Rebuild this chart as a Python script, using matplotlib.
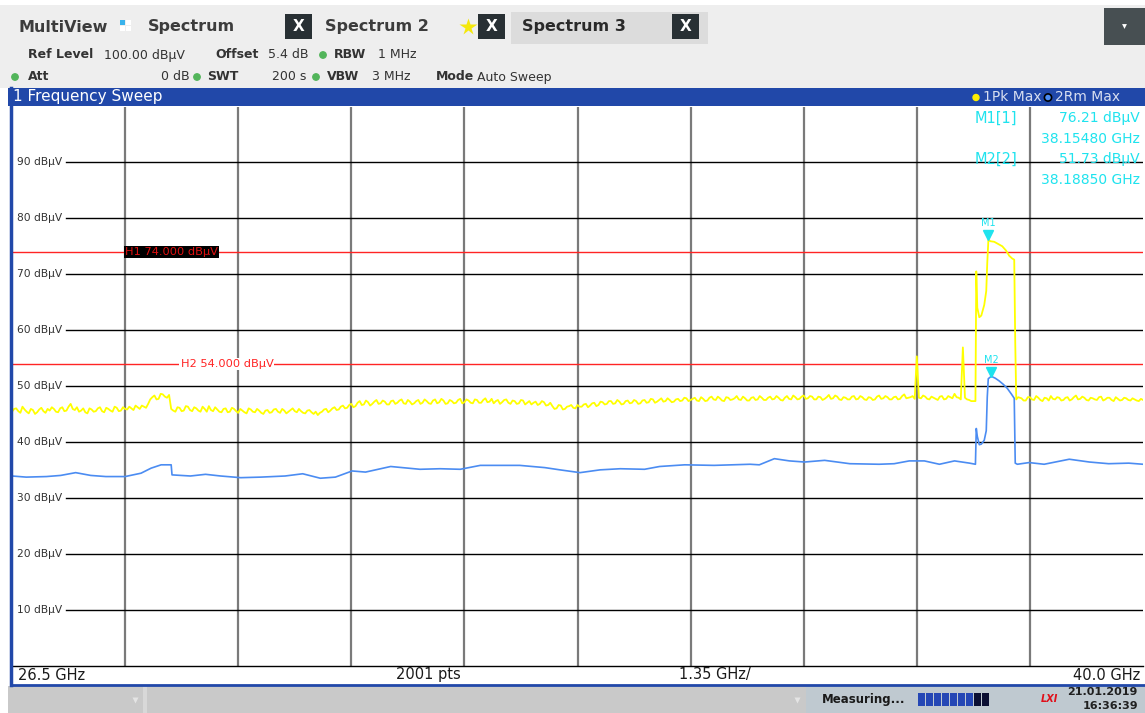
import numpy as np
import matplotlib
matplotlib.use("Agg")
import matplotlib.pyplot as plt
from matplotlib.patches import Rectangle, Circle
from matplotlib.transforms import offset_copy, blended_transform_factory

W, H = 1145, 713

# sweep settings
f_start, f_stop = 26.5, 40.0
n_div = 10
level_ticks = [90, 80, 70, 60, 50, 40, 30, 20, 10]

# trace 1 (1Pk Max), 50 MHz grid from 26.50 to 37.95 GHz
pk_low = [
    45.4, 46.0, 45.2, 45.8, 45.1, 45.7, 45.3, 46.1, 45.2, 45.6,
    45.9, 45.3, 46.2, 45.6, 46.8, 45.7, 45.4, 46.0, 45.1, 45.8,
    45.5, 46.2, 45.3, 45.9, 45.4, 46.1, 45.6, 45.9, 46.3, 45.7,
    46.2, 46.5, 46.1, 47.6, 48.3, 47.7, 48.5, 47.9, 45.9, 45.4,
    46.1, 45.6, 46.3, 45.5, 46.0, 45.4, 45.9, 46.4, 45.5, 45.8,
    45.3, 46.0, 45.4, 45.9, 45.2, 45.6, 45.1, 45.8, 45.3, 45.6,
    45.0, 45.7, 45.3, 45.9, 45.2, 45.6, 45.4, 46.0, 45.3, 45.5,
    45.1, 45.7, 45.0, 44.8, 45.4, 45.9, 45.6, 46.2, 45.8, 46.5,
    46.1, 46.8, 46.4, 47.3, 46.7, 47.1, 46.8, 47.5, 46.9, 47.2,
    46.7, 47.4, 47.0, 47.6, 46.8, 47.2, 46.9, 47.5, 47.0, 47.3,
    46.8, 47.6, 47.1, 47.4, 46.9, 47.3, 47.0, 47.7, 47.1, 47.4,
    46.9, 47.5, 47.0, 47.8, 47.2, 46.9, 47.5, 47.1, 47.6, 46.8,
    47.3, 46.9, 47.4, 47.0, 46.7, 47.2, 46.8, 47.1, 46.6, 46.4,
    46.0, 46.5, 45.9, 46.4, 46.1, 46.6, 46.3, 46.8, 46.5, 47.0,
    46.6, 47.1, 46.8, 47.3, 46.9, 47.2, 46.8, 47.4, 47.0, 47.3,
    46.9, 47.5, 47.1, 47.6, 47.2, 47.8, 47.3, 47.5, 47.2, 47.7,
    47.4, 47.8, 47.5, 47.9, 47.3, 47.7, 47.4, 48.1, 47.5, 47.8,
    47.3, 47.9, 47.6, 48.2, 47.5, 47.8, 47.4, 48.0, 47.6, 47.9,
    47.5, 48.1, 47.7, 47.9, 47.4, 48.2, 47.6, 48.0, 47.7, 48.3,
    47.8, 48.1, 47.6, 48.0, 47.7, 48.4, 47.8, 48.1, 47.5, 47.9,
    47.6, 48.2, 47.7, 48.0, 47.5, 47.9, 47.6, 48.3, 47.8, 48.0,
    47.6, 48.1, 47.7, 48.5, 47.9, 48.2, 55.3, 47.8, 48.1, 47.6,
    47.9, 47.5, 48.2, 47.7, 48.0, 48.6, 47.9, 56.9, 47.6, 47.3,
]
# trace 1, sweep points halfway between the ones above (26.525 ... 37.925 GHz)
pk_low_mid = [
    45.9, 45.5, 46.3, 45.4, 45.9, 45.0, 45.8, 45.5, 45.9, 46.2,
    45.4, 46.0, 45.5, 46.3, 45.9, 46.2, 45.6, 45.3, 46.0, 45.4,
    46.0, 45.5, 46.1, 45.6, 46.3, 45.5, 46.2, 45.8, 46.0, 46.5,
    45.9, 46.3, 46.8, 48.0, 47.6, 48.6, 48.1, 48.4, 45.6, 46.2,
    45.5, 46.4, 45.7, 46.2, 45.6, 46.3, 45.4, 45.7, 46.2, 45.4,
    45.9, 45.3, 46.1, 45.5, 45.9, 45.3, 46.0, 45.4, 45.9, 45.2,
    45.6, 45.2, 45.8, 45.4, 45.9, 45.1, 45.7, 45.5, 45.9, 45.2,
    45.6, 45.3, 45.4, 45.2, 45.8, 45.3, 46.0, 45.7, 46.3, 46.0,
    46.6, 46.2, 47.0, 46.6, 47.4, 46.5, 47.2, 46.8, 47.4, 46.7,
    47.3, 46.8, 47.4, 46.9, 47.5, 46.7, 47.3, 46.8, 47.6, 46.9,
    47.4, 46.9, 47.7, 46.8, 47.5, 46.9, 47.5, 46.9, 47.6, 47.0,
    47.6, 47.0, 47.5, 47.1, 47.7, 47.3, 46.8, 47.5, 47.0, 47.4,
    46.8, 47.5, 46.7, 47.3, 47.0, 46.6, 47.3, 46.5, 47.0, 45.9,
    46.6, 45.8, 46.3, 46.6, 46.0, 46.3, 46.7, 46.2, 46.9, 46.4,
    47.2, 46.7, 47.3, 46.8, 47.5, 46.7, 47.3, 46.9, 47.5, 46.8,
    47.4, 47.0, 47.7, 47.0, 47.5, 47.2, 47.8, 47.1, 47.6, 47.3,
    47.9, 47.3, 47.7, 47.4, 48.0, 47.3, 47.9, 47.6, 48.1, 47.4,
    48.0, 47.5, 47.8, 47.6, 48.1, 47.4, 47.9, 47.5, 48.2, 47.5,
    47.9, 47.6, 48.2, 47.5, 47.9, 47.7, 48.3, 47.6, 48.1, 47.7,
    48.2, 47.6, 48.1, 47.5, 48.0, 47.7, 48.3, 47.6, 48.0, 47.6,
    48.1, 47.6, 48.2, 47.6, 48.0, 47.5, 48.1, 47.7, 48.2, 47.6,
    48.0, 47.6, 48.2, 47.8, 48.0, 47.7, 47.9, 48.3, 47.7, 48.1,
    47.7, 48.1, 47.6, 48.2, 47.8, 48.0, 47.6, 47.9, 47.5,
]
# trace 1, 50 MHz grid from 38.55 to 40.00 GHz
pk_high = [
    47.8, 47.4, 48.0, 47.5, 47.9, 47.3, 47.8, 48.2, 47.6, 47.9,
    47.5, 48.0, 47.6, 48.3, 47.7, 47.9, 47.4, 47.8, 47.5, 48.1,
    47.6, 47.9, 47.3, 47.7, 47.5, 47.8, 47.4, 47.6, 47.3, 47.5,
]
# trace 1, halfway points 38.575 ... 39.975 GHz
pk_high_mid = [
    47.4, 48.0, 47.6, 48.2, 47.5, 47.9, 47.4, 47.7, 48.0, 47.4,
    47.9, 47.4, 48.0, 47.6, 48.1, 47.5, 47.9, 47.6, 48.0, 47.4,
    47.9, 47.5, 48.0, 47.4, 47.9, 47.5, 47.8, 47.4, 47.7,
]
# trace 1 across the carrier burst
pk_burst_ghz = [38.000, 38.010, 38.022, 38.046, 38.070, 38.105, 38.129, 38.141,
                38.1548, 38.177, 38.224, 38.272, 38.320, 38.367, 38.403, 38.439,
                38.463, 38.475, 38.487, 38.510]
pk_burst_dbuv = [47.3, 70.5, 64.0, 62.3, 62.6, 64.5, 67.0, 72.0,
                 76.21, 75.9, 75.8, 75.4, 75.0, 74.2, 73.3, 72.8,
                 72.6, 57.8, 47.6, 48.0]

# trace 2 (2Rm Max)
rm_ghz = [26.50, 26.67, 26.91, 27.08, 27.26, 27.44, 27.62, 27.85, 28.04, 28.16,
          28.28, 28.40, 28.41, 28.63, 28.81, 28.99, 29.23, 29.47, 29.76, 29.97,
          30.18, 30.36, 30.56, 30.72, 31.02, 31.37, 31.61, 31.85, 32.09, 32.56,
          32.86, 33.04, 33.28, 33.52, 33.76, 34.05, 34.23, 34.53, 34.88, 35.31,
          35.42, 35.60, 35.78, 35.96, 36.20, 36.50, 36.85, 37.03, 37.21, 37.39,
          37.57, 37.75, 37.93, 38.000, 38.010, 38.022, 38.046, 38.070, 38.105, 38.129,
          38.141, 38.153, 38.1885, 38.236, 38.284, 38.332, 38.379, 38.427, 38.463, 38.475,
          38.50, 38.64, 38.82, 39.12, 39.36, 39.59, 39.83, 40.00]
rm_dbuv = [33.9, 33.7, 33.8, 34.0, 34.5, 34.0, 33.8, 33.8, 34.4, 35.3,
           35.9, 35.9, 34.1, 33.9, 34.2, 33.9, 33.6, 33.7, 33.9, 34.3,
           33.5, 33.7, 34.8, 34.6, 35.6, 35.1, 35.2, 35.1, 35.8, 35.8,
           35.4, 35.0, 34.5, 35.0, 35.2, 35.1, 35.6, 35.9, 35.8, 36.0,
           35.9, 37.0, 36.6, 36.4, 36.7, 36.1, 36.0, 36.1, 36.6, 36.6,
           36.0, 36.6, 36.2, 36.0, 42.4, 41.0, 39.5, 39.6, 40.3, 42.0,
           48.0, 51.3, 51.73, 51.4, 50.9, 50.3, 49.6, 48.6, 47.8, 36.2,
           36.0, 36.3, 36.0, 36.9, 36.4, 36.1, 36.2, 36.0]

# display lines
h_names = ["H1", "H2"]
h_levels = [74.0, 54.0]

# markers
mk_names = ["M1", "M2"]
mk_traces = [1, 2]
mk_ghz = [38.15480, 38.18850]
mk_dbuv = [76.21, 51.73]

BLUE_BAR = "#2148a9"
CYAN = "#1fe3ee"
YELLOW = "#ffff00"
RM_BLUE = "#4b8cf2"
RED = "#ff2424"

plt.rcParams["font.family"] = ["DejaVu Sans"]
fig = plt.figure(figsize=(W / 100, H / 100), dpi=100, facecolor="white")

# ---- trace window ----
ax = fig.add_axes([12 / W, 1 - 665.5 / H, 1131 / W, (665.5 - 106.5) / H], zorder=1)
ax.set_xlim(f_start, f_stop)
ax.set_ylim(0, 100)
ax.set_xticks([])
ax.set_yticks([])
for side in ["top", "left", "right"]:
    ax.spines[side].set_visible(False)
ax.spines["bottom"].set_color("black")
ax.spines["bottom"].set_linewidth(1.0)

span = (f_stop - f_start) / n_div
for k in range(1, n_div):
    ax.axvline(f_start + k * span, color="#7a7a7a", lw=1.6, zorder=1)

xa = blended_transform_factory(ax.transAxes, ax.transData)
for lev in level_ticks:
    ax.plot([0.048, 1.0], [lev, lev], color="black", lw=1.0, transform=xa, zorder=1)
    ax.text(0.0045, lev, f"{lev} dBµV", transform=xa, fontsize=7.7, color="#333333",
            va="center", ha="left")

for name, lev in zip(h_names, h_levels):
    ax.axhline(lev, color=RED, lw=1.0, zorder=2)
h1_box = dict(boxstyle="square,pad=0.1", facecolor="black", edgecolor="none")
h2_box = dict(boxstyle="square,pad=0.1", facecolor="white", edgecolor="none")
ax.text(0.1, h_levels[0], f"{h_names[0]} {h_levels[0]:.3f} dBµV", transform=xa,
        fontsize=8.2, color="#e01010", va="center", ha="left", bbox=h1_box, zorder=3)
ax.text(0.149, h_levels[1], f"{h_names[1]} {h_levels[1]:.3f} dBµV", transform=xa,
        fontsize=8.2, color=RED, va="center", ha="left", bbox=h2_box, zorder=3)

# merge the sweep points of trace 1 in frequency order
pk_low_ghz = f_start + 0.05 * np.arange(len(pk_low))
pk_low_mid_ghz = pk_low_ghz[:len(pk_low_mid)] + 0.025
pk_high_ghz = f_stop - 0.05 * np.arange(len(pk_high))[::-1]
pk_high_mid_ghz = pk_high_ghz[:len(pk_high_mid)] + 0.025
pk_ghz = np.concatenate([pk_low_ghz, pk_low_mid_ghz, pk_burst_ghz, pk_high_ghz, pk_high_mid_ghz])
pk_dbuv = np.concatenate([pk_low, pk_low_mid, pk_burst_dbuv, pk_high, pk_high_mid])
order = np.argsort(pk_ghz, kind="stable")

ax.plot(rm_ghz, rm_dbuv, color=RM_BLUE, lw=1.2, zorder=4)
ax.plot(pk_ghz[order], pk_dbuv[order], color=YELLOW, lw=1.3, zorder=5)

tri_tf = offset_copy(ax.transData, fig=fig, x=0, y=4.5, units="dots")
lab_tf = offset_copy(ax.transData, fig=fig, x=0, y=16, units="dots")
for name, f, lev in zip(mk_names, mk_ghz, mk_dbuv):
    ax.plot([f], [lev], marker="v", ms=7, color=CYAN, transform=tri_tf, zorder=6)
    ax.text(f, lev, name, transform=lab_tf, fontsize=7, color=CYAN,
            ha="center", va="center", zorder=6)

# ---- surrounding instrument UI (pixel coordinates) ----
ui = fig.add_axes([0, 0, 1, 1], zorder=2)
ui.set_xlim(0, W)
ui.set_ylim(H, 0)
ui.axis("off")
ui.patch.set_alpha(0)


def box(x0, y0, x1, y1, color):
    ui.add_patch(Rectangle((x0, y0), x1 - x0, y1 - y0, facecolor=color, edgecolor="none"))


def label(x, y, s, size=9, bold=False, color="#333333", ha="left", **kw):
    ui.text(x, y, s, fontsize=size, fontweight="bold" if bold else "normal",
            color=color, ha=ha, va="center", **kw)


# top bar with tabs
box(0, 5, W, 88, "#eeeeee")
box(511, 12, 708, 44, "#dcdcdc")
label(18, 27, "MultiView", size=11.5, bold=True, color="#3c3c3c")
box(120, 20, 125, 25, "#39b3ec")
box(126, 20, 131, 25, "white")
box(120, 26, 125, 31, "white")
box(126, 26, 131, 31, "white")
label(148, 27, "Spectrum", size=11.5, bold=True, color="#3c3c3c")
label(325, 27, "Spectrum 2", size=11.5, bold=True, color="#3c3c3c")
label(522, 27, "Spectrum 3", size=11.5, bold=True, color="#2a2a2a")
for x0 in [285, 478, 672]:
    box(x0, 14, x0 + 27, 39, "#283034")
    label(x0 + 13.5, 26.5, "X", size=11, bold=True, color="white", ha="center")
ui.plot([468], [27], marker="*", ms=13, color="#f4e80c", mec="none")
box(1104, 8, W, 45, "#474f52")
ui.plot([1124], [26], marker="v", ms=3.5, color="white", mec="none")

# settings lines
GREEN = "#52b55a"
label(28, 55, "Ref Level", size=9, bold=True)
label(104, 55, "100.00 dBµV", size=9)
label(215, 55, "Offset", size=9, bold=True)
label(268, 55, "5.4 dB", size=9)
ui.add_patch(Circle((323, 55), 3.2, color=GREEN))
label(334, 55, "RBW", size=9, bold=True)
label(378, 55, "1 MHz", size=9)

ui.add_patch(Circle((15, 77), 3.2, color=GREEN))
label(28, 77, "Att", size=9, bold=True)
label(190, 77, "0 dB", size=9, ha="right")
ui.add_patch(Circle((197, 77), 3.2, color=GREEN))
label(207, 77, "SWT", size=9, bold=True)
label(272, 77, "200 s", size=9)
ui.add_patch(Circle((316, 77), 3.2, color=GREEN))
label(327, 77, "VBW", size=9, bold=True)
label(372, 77, "3 MHz", size=9)
label(436, 77, "Mode", size=9, bold=True)
label(477, 77, "Auto Sweep", size=9)

# window title bar
box(8, 88, W, 106, BLUE_BAR)
label(13, 97, "1 Frequency Sweep", size=11, color="white")
ui.add_patch(Circle((976, 97.5), 3.0, color="#ffee00"))
label(983, 97, "1Pk Max", size=10, color="#d7def0")
ui.add_patch(Circle((1048, 97.5), 3.6, facecolor=RM_BLUE, edgecolor="black", lw=1.2))
label(1055, 97, "2Rm Max", size=10, color="#d7def0")

# marker table
label(975, 118, f"{mk_names[0]}[{mk_traces[0]}]", size=10.5, color=CYAN)
label(1140, 118, f"{mk_dbuv[0]:.2f} dBµV", size=10, color=CYAN, ha="right")
label(1140, 139, f"{mk_ghz[0]:.5f} GHz", size=10, color=CYAN, ha="right")
label(975, 159, f"{mk_names[1]}[{mk_traces[1]}]", size=10.5, color=CYAN)
label(1140, 159, f"{mk_dbuv[1]:.2f} dBµV", size=10, color=CYAN, ha="right")
label(1140, 180, f"{mk_ghz[1]:.5f} GHz", size=10, color=CYAN, ha="right")

# frequency axis footer
label(18, 675, f"{f_start:.1f} GHz", size=10.5, color="#1a1a1a")
label(428, 675, "2001 pts", size=10.5, color="#1a1a1a", ha="center")
label(715, 675, f"{span:.2f} GHz/", size=10.5, color="#1a1a1a", ha="center")
label(1140, 675, f"{f_stop:.1f} GHz", size=10.5, color="#1a1a1a", ha="right")

# window frame
ui.plot([11, 11], [88, 685], color=BLUE_BAR, lw=2.5)
ui.plot([11, W], [684.5, 684.5], color=BLUE_BAR, lw=2)

# status bar
box(8, 686, 143, H, "#c9c9c9")
box(143, 686, 147, H, "#d8d8d8")
box(147, 686, 806, H, "#c9c9c9")
box(806, 686, W, H, "#bfc9d0")
ui.plot([135, 797], [700, 700], "v", ms=4, color="#e4e4e4", mec="none", lw=0)
label(822, 700, "Measuring...", size=8.5, bold=True, color="#1a1a1a")
for k in range(9):
    box(918 + 8 * k, 693, 918 + 8 * k + 7, 706, "#2547b5" if k < 7 else "#0b0f33")
label(1049, 699.5, "LXI", size=7, bold=True, color="#e0101a", ha="center", style="italic")
label(1138, 692, "21.01.2019", size=8, bold=True, color="#202020", ha="right")
label(1138, 706, "16:36:39", size=8, bold=True, color="#202020", ha="right")

fig.savefig("out.png", dpi=100)
